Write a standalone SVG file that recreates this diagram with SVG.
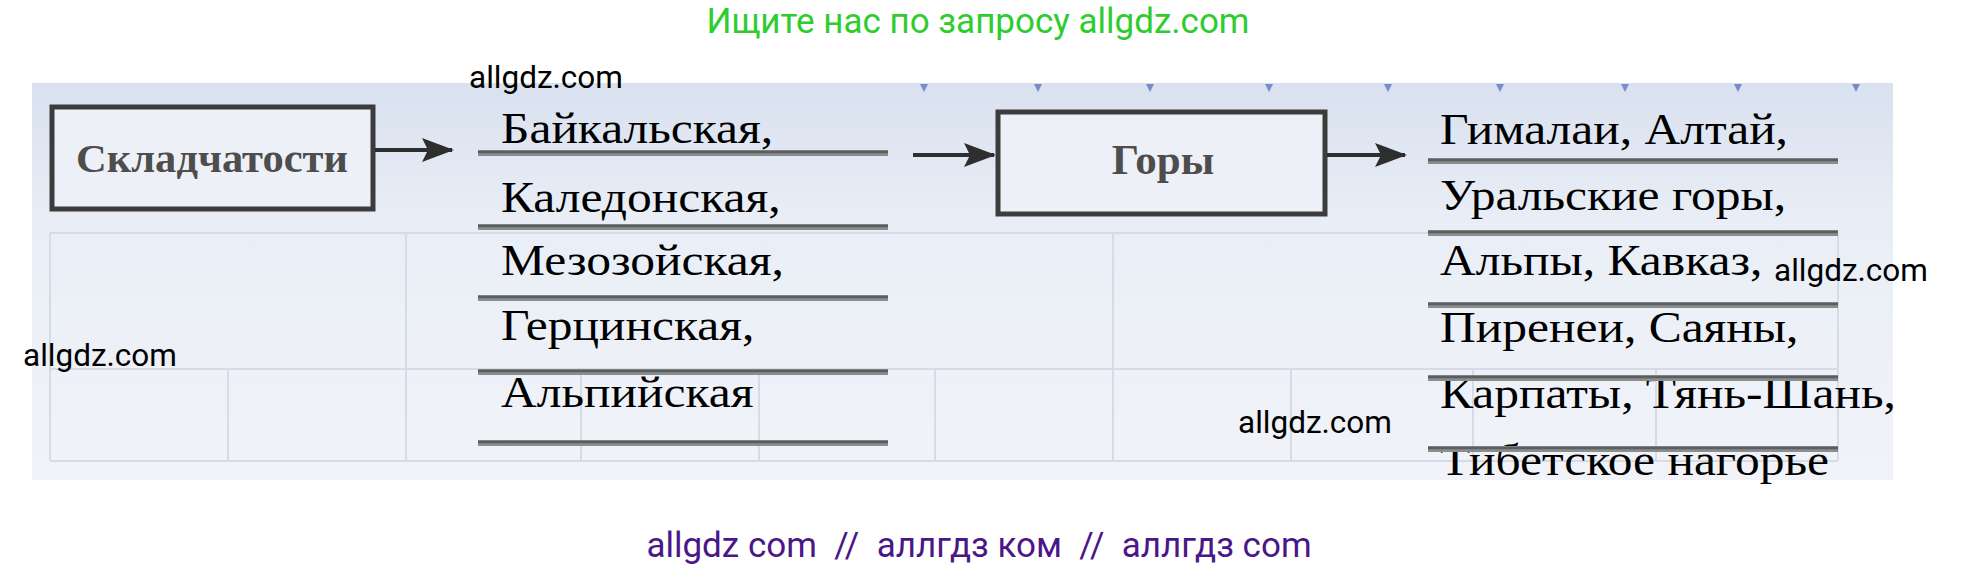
<svg xmlns="http://www.w3.org/2000/svg" width="1961" height="571" viewBox="0 0 1961 571">
<defs>
<linearGradient id="bg" x1="0" y1="0" x2="0" y2="1">
<stop offset="0" stop-color="#d9e1ef"/>
<stop offset="0.35" stop-color="#e9eef6"/>
<stop offset="1" stop-color="#f1f3f8"/>
</linearGradient>
<marker id="ah" markerWidth="8" markerHeight="6" refX="7.5" refY="3" orient="auto" markerUnits="strokeWidth">
<path d="M0,0 L8,3 L0,6 L1.5,3 Z" fill="#2e2e2e"/>
</marker>
<style>
.wm{font-family:Roboto,"Liberation Sans",sans-serif;font-size:31.5px;fill:#000}
.item{font-family:"Liberation Serif","Times New Roman",serif;font-size:45px;fill:#000}
.lbl{font-family:"Liberation Serif","Times New Roman",serif;font-weight:bold;fill:#4d4d4d;text-anchor:middle}
.box{fill:#edf0f6;stroke:#3c3c3c;stroke-width:5}
.rule{stroke:#8a8e8e;stroke-width:6}
.rulec{stroke:#5a5e5e;stroke-width:2.5}
.grid{stroke:#d6dbe5;stroke-width:2;fill:none}
.conn{stroke:#2e2e2e;stroke-width:4;fill:none}
.tri{fill:#7a8ccc}
</style>
</defs>
<rect width="1961" height="571" fill="#ffffff"/>
<text x="978" y="33" text-anchor="middle" style="font-family:Roboto,'Liberation Sans',sans-serif;font-size:35px;fill:#2ecc2e">Ищите нас по запросу allgdz.com</text>
<g id="panel">
<rect x="32" y="83" width="1861" height="397" fill="url(#bg)"/>
<g class="tri">
<path d="M920,84 l8,0 l-4,8 z"/><path d="M1034,84 l8,0 l-4,8 z"/><path d="M1146,84 l8,0 l-4,8 z"/><path d="M1265,84 l8,0 l-4,8 z"/><path d="M1384,84 l8,0 l-4,8 z"/><path d="M1496,84 l8,0 l-4,8 z"/><path d="M1621,84 l8,0 l-4,8 z"/><path d="M1734,84 l8,0 l-4,8 z"/><path d="M1852,84 l8,0 l-4,8 z"/>
</g>
<g class="grid">
<path d="M50,233 H1838 M50,369 H1838 M50,461 H1838"/>
<path d="M50,233 V461 M406,233 V461 M1113,233 V461 M1838,233 V461"/>
<path d="M228,369 V461 M581,369 V461 M759,369 V461 M935,369 V461 M1291,369 V461 M1473,369 V461 M1656,369 V461"/>
</g>
</g>
<g id="node-skladchatosti">
<rect class="box" x="52" y="107" width="321" height="102"/>
<text class="lbl" x="212" y="172" font-size="40" textLength="272" lengthAdjust="spacingAndGlyphs">Складчатости</text>
</g>
<g id="node-list1">
<g transform="translate(501,0) scale(1.1,1)">
<text class="item" x="0" y="143">Байкальская,</text>
<text class="item" x="0" y="212">Каледонская,</text>
<text class="item" x="0" y="275">Мезозойская,</text>
<text class="item" x="0" y="340">Герцинская,</text>
<text class="item" x="0" y="407">Альпийская</text>
</g>
<path class="rule" d="M478,153 H888 M478,227 H888 M478,298 H888 M478,372 H888 M478,443 H888"/>
<path class="rulec" d="M478,152 H888 M478,226 H888 M478,297 H888 M478,371 H888 M478,442 H888"/>
</g>
<g id="node-gory">
<rect class="box" x="998" y="112" width="327" height="102"/>
<text class="lbl" x="1163" y="174" font-size="43">Горы</text>
</g>
<g id="node-list2">
<g transform="translate(1440,0) scale(1.1,1)">
<text class="item" x="0" y="144">Гималаи, Алтай,</text>
<text class="item" x="0" y="210">Уральские горы,</text>
<text class="item" x="0" y="275">Альпы, Кавказ,</text>
<text class="item" x="0" y="342">Пиренеи, Саяны,</text>
<text class="item" x="0" y="408">Карпаты, Тянь-Шань,</text>
<text class="item" x="0" y="475">Тибетское нагорье</text>
</g>
<path class="rule" d="M1428,161 H1838 M1428,233 H1838 M1428,305 H1838 M1428,378 H1838 M1428,449 H1838"/>
<path class="rulec" d="M1428,160 H1838 M1428,232 H1838 M1428,304 H1838 M1428,377 H1838 M1428,448 H1838"/>
</g>
<g id="connectors">
<line class="conn" x1="375" y1="150" x2="452" y2="150" marker-end="url(#ah)"/>
<line class="conn" x1="913" y1="155" x2="994" y2="155" marker-end="url(#ah)"/>
<line class="conn" x1="1327" y1="155" x2="1405" y2="155" marker-end="url(#ah)"/>
</g>
<g id="watermarks">
<text class="wm" x="469" y="88">allgdz.com</text>
<text class="wm" x="23" y="366">allgdz.com</text>
<text class="wm" x="1774" y="281">allgdz.com</text>
<text class="wm" x="1238" y="433">allgdz.com</text>
</g>
<text x="979" y="557" text-anchor="middle" style="font-family:Roboto,'Liberation Sans',sans-serif;font-size:35px;fill:#4b1687" xml:space="preserve">allgdz com  //  аллгдз ком  //  аллгдз com</text>
</svg>
